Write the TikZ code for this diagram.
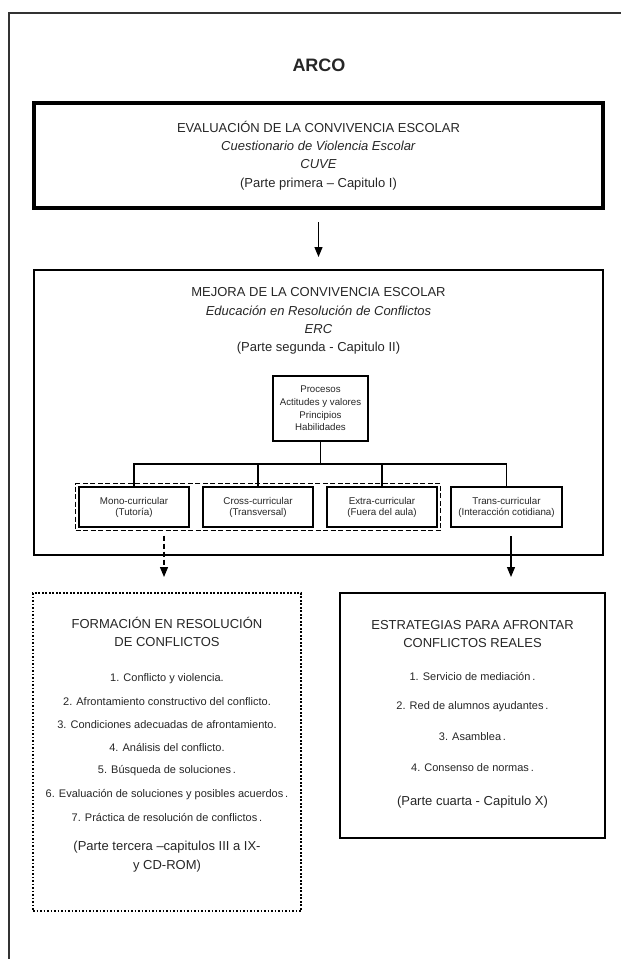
\documentclass[tikz,border=0pt]{standalone}
\usepackage{fontspec}
\setmainfont{Liberation Sans}
\usetikzlibrary{positioning, arrows.meta, fit, calc}

\begin{document}
\begin{tikzpicture}[x=1pt, y=-1pt,
    every node/.style={inner sep=0pt, outer sep=0pt, text=black!85},
    frame/.style={draw=black!80, line width=1.6pt},
    thickbox/.style={draw, line width=3.4pt, minimum width=569pt, minimum height=105pt},
    mainbox/.style={draw, line width=2pt},
    smallbox/.style={draw, line width=1.3pt, minimum width=110pt, minimum height=40pt, align=center, font=\fontsize{9.8}{11}\selectfont},
    dotbox/.style={draw, line width=1.2pt, dash pattern=on 1.6pt off 1.9pt},
    grpbox/.style={draw, line width=1.4pt, dash pattern=on 5pt off 2.5pt},
    head/.style={align=center, font=\fontsize{13}{18.3}\selectfont},
    item/.style={font=\fontsize{11}{13}\selectfont},
    arr/.style={-{Triangle[width=8pt,length=10pt]}, line width=1.2pt},
]
\useasboundingbox (0,0) rectangle (621,959);
% open frame, left and top only
\draw[frame] (9,959) -- (9,13) -- (621,13);
\node[font=\bfseries\fontsize{18}{20}\selectfont] (arco) at (319,65) {ARCO};

% ---- CUVE
\node[thickbox, head] (cuve) at (318.5,155.5) {EVALUACIÓN DE LA CONVIVENCIA ESCOLAR\\ \textit{Cuestionario de Violencia Escolar}\\ \textit{CUVE}\\ (Parte primera – Capitulo I)};

% ---- ERC
\node[mainbox, minimum width=569pt, minimum height=285pt] (erc) at (318.5,412.5) {};
\draw[arr, shorten <=14pt, shorten >=13pt] (cuve.south) -- (erc.north);
\node[head] (ercT) at (318.5,321) {MEJORA DE LA CONVIVENCIA ESCOLAR\\ \textit{Educación en Resolución de Conflictos}\\ \textit{ERC}\\ (Parte segunda - Capitulo II)};
\node[smallbox, minimum width=95pt, minimum height=65pt, font=\fontsize{9.7}{12.7}\selectfont] (proc) at (320.5,408.5) {Procesos\\Actitudes y valores\\Principios\\Habilidades};
\node[smallbox] (mono) at (134,507) {Mono-curricular\\(Tutoría)};
\node[smallbox] (cross) at (258,507) {Cross-curricular\\(Transversal)};
\node[smallbox] (extra) at (382,507) {Extra-curricular\\(Fuera del aula)};
\node[smallbox, minimum width=111pt] (trans) at (506.5,507) {Trans-curricular\\(Interacción cotidiana)};
\node[grpbox, inner sep=3.5pt, fit=(mono)(extra)] (grp) {};
\coordinate (bus) at (0,464);
\draw[line width=1.3pt] (proc.south) -- (proc.south |- bus);
\draw[line width=1.3pt] (mono.north) -- (mono.north |- bus) -- (trans.north |- bus) -- (trans.north);
\foreach \n in {cross,extra} \draw[line width=1.3pt] (\n.north) -- (\n.north |- bus);

\coordinate (tipL) at (164,577);
\coordinate (tipR) at (511,577);
\draw[arr, dash pattern=on 5pt off 3pt, shorten <=5pt] (grp.south -| tipL) -- (tipL);
\draw[arr, shorten <=9pt] (trans.south -| tipR) -- (tipR);

% ---- Formacion
\node[dotbox, minimum width=268pt, minimum height=318pt] (form) at (167,752) {};
\node[head] (formT) at (167,632) {FORMACIÓN EN RESOLUCIÓN\\DE CONFLICTOS};
\foreach \i/\t in {1/Conflicto y violencia., 2/Afrontamiento constructivo del conflicto., 3/Condiciones adecuadas de afrontamiento., 4/Análisis del conflicto., 5/Búsqueda de soluciones\,., 6/Evaluación de soluciones y posibles acuerdos\,., 7/Práctica de resolución de conflictos\,.}
    \node[item] (f\i) at (167,655+23.2*\i) {\i. \t};
\node[head] (formP) at (167,856.5) {(Parte tercera –capitulos III a IX-\\y CD-ROM)};

% ---- Estrategias
\node[mainbox, line width=1.3pt, minimum width=265pt, minimum height=245pt] (estr) at (472.5,715.5) {};
\node[head] (estrT) at (472.5,634) {ESTRATEGIAS PARA AFRONTAR\\CONFLICTOS REALES};
\foreach \i/\t in {1/Servicio de mediación\,., 2/Red de alumnos ayudantes\,., 3/Asamblea\,., 4/Consenso de normas\,.}
    \node[item] (s\i) at (472.5,646+30.3*\i) {\i. \t};
\node[head] (estrP) at (472.5,802) {(Parte cuarta - Capitulo X)};
\end{tikzpicture}
\end{document}
